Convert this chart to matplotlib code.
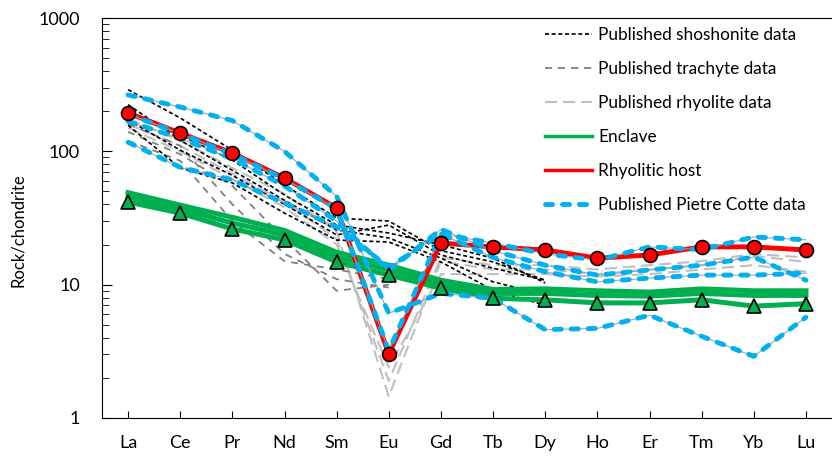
import numpy as np
import matplotlib.pyplot as plt
from matplotlib.lines import Line2D

plt.rcParams['font.family'] = ['Lato', 'DejaVu Sans']

ree = ['La', 'Ce', 'Pr', 'Nd', 'Sm', 'Eu', 'Gd', 'Tb', 'Dy', 'Ho', 'Er', 'Tm', 'Yb', 'Lu']

# chondrite-normalised REE patterns
shoshonite = [
    [290, 178, 102, 56, 31.6, 30, 18, 14.8, 10.8],
    [194, 132, 86, 47, 28, 24.4, 19.9, 15.8, 10.3],
    [172, 102, 66, 40, 23.6, 28, 16.7, 13.3, 10.8],
    [157, 75, 58, 34.4, 21.6, 20.9, 14.8, 9.1, 7.0],
    [224, 121, 72, 43, 25.7, 22.4, 15.8, 10.5, 8.4],
]
trachyte = [
    [160, 110, 40, 17, 11, 9.5],
    [140, 95, 55, 22, 9, 10],
    [120, 85, 30, 15, 13, 11],
]
rhyolite = [
    [175, 120, 75, 48, 25, 1.45, 15, 13, 13, 12, 13, 14, 16.5, 14.8],
    [160, 110, 68, 42, 22, 1.9, 16, 14, 14, 13, 14, 15, 17, 16],
    [150, 100, 62, 38, 20, 2.4, 12, 12, 12, 11.5, 12, 13, 14, 12.5],
]
enclave = [
    [49, 39.5, 32, 25.5, 17.5, 14.0, 10.8, 9.2, 9.3, 9.0, 8.8, 9.3, 9.0, 9.0],
    [45.5, 36.9, 29, 23.6, 16.1, 12.9, 10.0, 8.6, 8.6, 8.3, 8.2, 8.6, 8.3, 8.3],
]
enclave_avg = [41.7, 34.4, 26.2, 21.7, 14.8, 11.8, 9.4, 7.9, 7.7, 7.3, 7.3, 7.7, 6.9, 7.2]
host = [194, 137, 97, 63, 37.6, 3.02, 20.5, 19.2, 18.2, 15.8, 16.7, 19.2, 19.2, 18.2]
pietre_cotte = [
    [265, 215, 170, 100, 46, 6.1, 8.6, 7.9, 4.6, 4.7, 5.9, 4.1, 2.9, 5.7],
    [190, 136, 95, 62, 37, 3.2, 24, 20.5, 17, 15.3, 19.2, 18.3, 22.8, 21.7],
    [168, 125, 88, 55, 30, 12.8, 26, 18, 14, 11.8, 12.9, 14, 16.1, 10.8],
    [117, 76, 61, 41, 27, 13.5, 24, 16, 12.5, 10.5, 11.2, 11.8, 11.8, 12.2],
]

BLUE = '#00B0F0'
GREEN = '#00B050'
RED = '#FF0000'

x = np.arange(1, len(ree) + 1)

fig = plt.figure(figsize=(8.32, 4.57), dpi=100)
ax = fig.add_axes([102 / 832, 1 - 418 / 457, 1 - 102 / 832, 400 / 457])

for s in rhyolite:
    ax.plot(x[:len(s)], s, color='#BFBFBF', lw=1.5, dashes=(5.8, 2.9), zorder=2)
for s in trachyte:
    ax.plot(x[:len(s)], s, color='#808080', lw=1.3, dashes=(3.9, 3.3), zorder=2.2)
for s in shoshonite:
    ax.plot(x[:len(s)], s, color='black', lw=1.2, dashes=(2.4, 1.6), zorder=2.5)

for s in enclave:
    ax.plot(x, s, color=GREEN, lw=3.6, zorder=3)
ax.plot(x, enclave_avg, color=GREEN, lw=3.6, zorder=3)

ax.plot(x, host, color=RED, lw=3.5, zorder=3.5)

for s in pietre_cotte:
    ax.plot(x, s, color='#A6A6A6', lw=0.8, zorder=3.9)
    ax.plot(x, s, color=BLUE, lw=3.5, dashes=(1.46, 2.03),
            dash_capstyle='round', zorder=4)

ax.plot(x, enclave_avg, ls='none', marker='^', ms=10, mfc=GREEN, mec='black',
        mew=1.2, zorder=5)
ax.plot(x, host, ls='none', marker='o', ms=10, mfc=RED, mec='black',
        mew=1.2, zorder=5)

ax.set_yscale('log')
ax.set_ylim(1, 1000)
ax.set_xlim(0.5, 14.5)
ax.set_xticks(x)
ax.set_xticklabels(ree, fontsize=13)
ax.tick_params(axis='x', direction='in', length=5, pad=12)
ax.tick_params(axis='y', which='major', direction='in', length=7, labelsize=13, pad=16)
ax.tick_params(axis='y', which='minor', direction='in', length=5)
ax.set_yticks([1, 10, 100, 1000])
ax.set_yticklabels(['1', '10', '100', '1000'])
ax.spines['right'].set_visible(False)

fig.text(18 / 832, 1 - 230 / 457, 'Rock/chondrite', rotation=90, fontsize=12,
         ha='center', va='center')

handles = [
    Line2D([], [], color='black', lw=1.2, dashes=(2.4, 1.6)),
    Line2D([], [], color='#808080', lw=1.3, dashes=(3.9, 3.3)),
    Line2D([], [], color='#BFBFBF', lw=1.5, dashes=(5.8, 2.9)),
    Line2D([], [], color=GREEN, lw=2.5),
    Line2D([], [], color=RED, lw=2.5),
    Line2D([], [], color=BLUE, lw=3.5, dashes=(1.46, 2.03), dash_capstyle='round'),
]
labels = ['Published shoshonite data', 'Published trachyte data',
          'Published rhyolite data', 'Enclave', 'Rhyolitic host',
          'Published Pietre Cotte data']
fig.legend(handles, labels, loc='upper left', bbox_to_anchor=(545 / 832, 1 - 27 / 457),
           frameon=False, fontsize=12.4, handlelength=2.7, handletextpad=0.4,
           labelspacing=1.04, borderpad=0, borderaxespad=0)

fig.savefig('out.png', dpi=100)
